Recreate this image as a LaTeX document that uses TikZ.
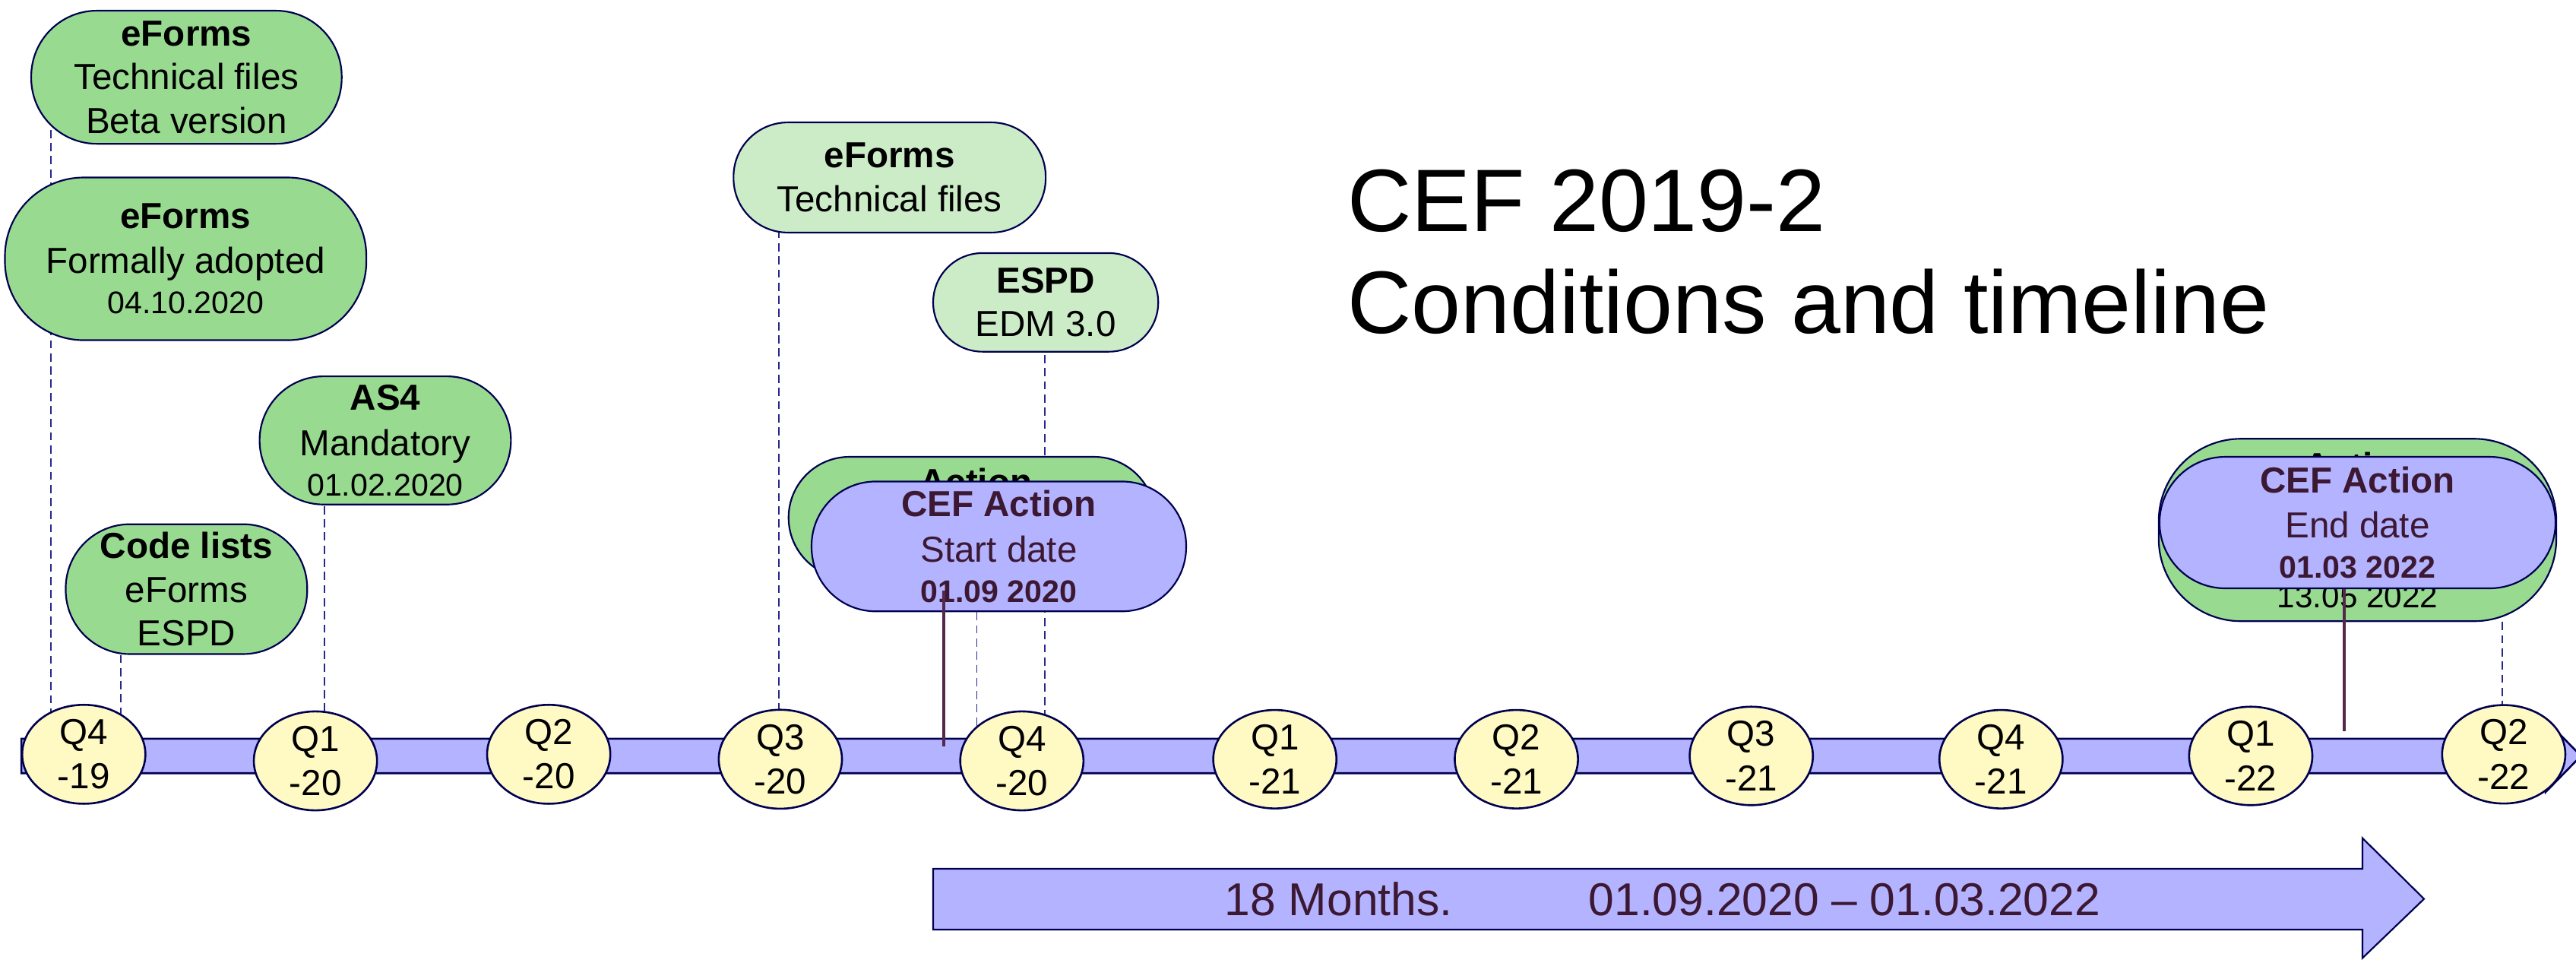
\documentclass[tikz,border=0pt]{standalone}
\usepackage{fontspec}
\setmainfont{Liberation Sans}
\usetikzlibrary{shapes.geometric}
\definecolor{gfill}{RGB}{152,218,144}
\definecolor{lgfill}{RGB}{204,236,200}
\definecolor{pfill}{RGB}{179,179,255}
\definecolor{yfill}{RGB}{255,249,196}
\definecolor{navy}{RGB}{0,0,80}
\definecolor{maroon}{RGB}{60,24,50}
\definecolor{marline}{RGB}{85,40,75}
\definecolor{dashc}{RGB}{40,40,140}
\pgfdeclarelayer{bg}
\pgfsetlayers{bg,main}
\begin{document}
\begin{tikzpicture}[x=1pt,y=-1pt,
  box/.style={draw=navy, line width=1pt, align=center, inner sep=0pt, font=\fontsize{22}{26.5}\selectfont},
  gbox/.style={box, fill=gfill},
  lbox/.style={box, fill=lgfill},
  pbox/.style={box, fill=pfill, text=maroon},
  qnode/.style={ellipse, draw=navy, line width=1.2pt, fill=yfill, minimum width=75pt, minimum height=52pt, inner sep=0pt, align=center, font=\fontsize{22}{27}\selectfont},
  dashline/.style={draw=dashc, line width=0.7pt, dash pattern=on 5pt off 3pt},
  marl/.style={draw=marline, line width=1.6pt},
  barshape/.style={draw=navy, line width=1.2pt, fill=pfill},
]
\useasboundingbox (0,0) rectangle (1568,584);

% timeline bar
\path[barshape] (13,449.5) -- (1549.5,449.5) -- (1549.5,438) -- (1571,460) -- (1549.5,482) -- (1549.5,470.5) -- (13,470.5) -- cycle;

% quarter ellipses
\node[qnode] (q419) at (51,459) {Q4\\-19};
\node[qnode] (q120) at (192,463) {Q1\\-20};
\node[qnode] (q220) at (334,459) {Q2\\-20};
\node[qnode] (q320) at (475,462) {Q3\\-20};
\node[qnode] (q420) at (622,463) {Q4\\-20};
\node[qnode] (q121) at (776,462) {Q1\\-21};
\node[qnode] (q221) at (923,462) {Q2\\-21};
\node[qnode] (q321) at (1066,460) {Q3\\-21};
\node[qnode] (q421) at (1218,462) {Q4\\-21};
\node[qnode] (q122) at (1370,460) {Q1\\-22};
\node[qnode] (q222) at (1524,459) {Q2\\-22};

% bottom arrow
\path[draw=navy, line width=1pt, fill=pfill] (568,528.7) -- (1438,528.7) -- (1438,510) -- (1475.5,547) -- (1438,583) -- (1438,565.7) -- (568,565.7) -- cycle;
\node[text=maroon, font=\fontsize{28}{32}\selectfont, inner sep=0pt] (dur) at (1012,547) {18 Months.\hspace{83pt}01.09.2020 – 01.03.2022};

% boxes
\node[gbox, minimum width=189pt, minimum height=81pt, rounded corners=40pt] (b1) at (113.5,47) {\textbf{eForms}\\Technical files\\Beta version};
\node[gbox, minimum width=220pt, minimum height=99pt, rounded corners=48pt] (b2) at (113,157.5) {\textbf{eForms}\\[1pt]Formally adopted\\[-2pt]{\fontsize{19}{26.5}\selectfont 04.10.2020}};
\node[lbox, minimum width=190pt, minimum height=67pt, rounded corners=33pt] (b3) at (541.5,108) {\textbf{eForms}\\Technical files};
\node[lbox, minimum width=137pt, minimum height=60pt, rounded corners=30pt] (b4) at (636.5,184) {\textbf{ESPD}\\EDM 3.0};
\node[gbox, minimum width=153pt, minimum height=78pt, rounded corners=39pt] (b5) at (234.5,268) {\textbf{AS4}\\[1pt]Mandatory\\[-2pt]{\fontsize{19}{26.5}\selectfont 01.02.2020}};
\node[gbox, minimum width=147pt, minimum height=79pt, rounded corners=39pt] (b6) at (113.5,358.5) {\textbf{Code lists}\\eForms\\ESPD};

\node[gbox, minimum width=223pt, minimum height=74pt, rounded corners=37pt] (g7) at (591.5,315) {};
\node[anchor=base, inner sep=0pt, font=\bfseries\fontsize{22}{26}\selectfont] (g7t) at (594,301) {Action};
\node[pbox, minimum width=228pt, minimum height=79pt, rounded corners=39pt] (p8) at (608,332.5) {\textbf{CEF Action}\\[1pt]Start date\\[-2pt]{\bfseries\fontsize{19}{26.5}\selectfont 01.09 2020}};

\node[gbox, minimum width=242pt, minimum height=111pt, rounded corners=50pt] (g9) at (1435,322.5) {};
\node[anchor=base, inner sep=0pt, font=\bfseries\fontsize{22}{26}\selectfont] (g9t) at (1437,291) {Action};
\node[anchor=base, inner sep=0pt, font=\fontsize{19.5}{24}\selectfont] (g9d) at (1435,370) {13.05 2022};
\node[pbox, minimum width=241pt, minimum height=80pt, rounded corners=40pt] (p10) at (1435,318) {\textbf{CEF Action}\\[1pt]End date\\[-2pt]{\bfseries\fontsize{19}{26.5}\selectfont 01.03 2022}};

% start / end markers
\coordinate (s1) at (574.5,454);
\coordinate (s2) at (1427,445);
\draw[marl] (s1 |- p8.south) ++(0,-13) -- (s1);
\draw[marl] (s2 |- p10.south) -- (s2);

% title
\node[anchor=base west, inner sep=0pt, font=\fontsize{54}{60}\selectfont] (t1) at (820,141) {CEF 2019-2};
\node[anchor=base west, inner sep=0pt, font=\fontsize{54}{60}\selectfont] (t2) at (820,203) {Conditions and timeline};

% dashed guide lines
\coordinate (x1) at (31,0);
\coordinate (x2) at (73.5,0);
\coordinate (x3) at (197.5,0);
\coordinate (x4) at (474,0);
\coordinate (x5) at (636,0);
\coordinate (x6) at (594.5,0);
\coordinate (x7) at (1523,0);
\begin{pgfonlayer}{bg}
\draw[dashline] (x1 |- b1.center) -- (x1 |- q419.center);
\draw[dashline] (x2 |- b6.center) -- (x2 |- q419.center);
\draw[dashline] (x3 |- b5.center) -- (x3 |- q120.center);
\draw[dashline] (x4 |- b3.center) -- (x4 |- q320.center);
\draw[dashline] (x5 |- b4.center) -- (x5 |- q420.center);
\draw[dashline] (x6 |- p8.center) -- (x6 |- q420.center);
\draw[dashline] (x7 |- g9.center) -- (x7 |- q222.center);
\end{pgfonlayer}
\end{tikzpicture}
\end{document}
